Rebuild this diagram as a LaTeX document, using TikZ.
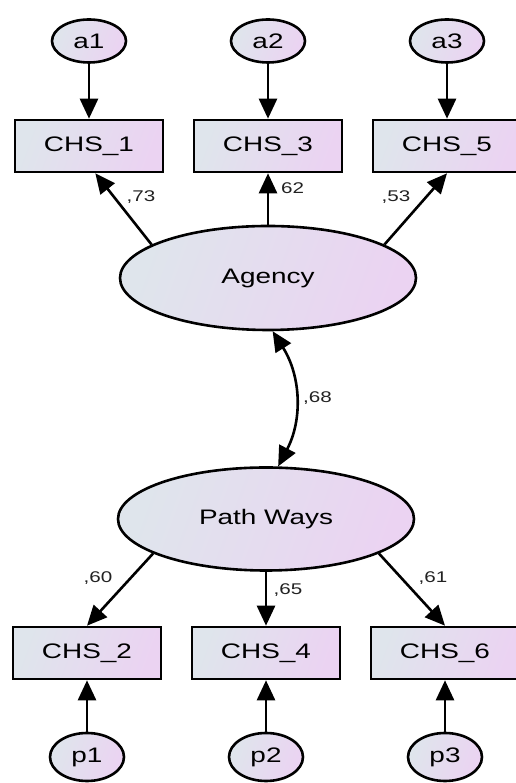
\documentclass[tikz,border=0pt]{standalone}
\usepackage{fontspec}
\setmainfont{Liberation Sans}[FakeStretch=1.33]
\usetikzlibrary{arrows.meta,shapes.geometric}
\definecolor{fillL}{HTML}{DFE5EC}
\definecolor{fillR}{HTML}{EBD3F2}
\definecolor{lbl}{HTML}{222222}
\tikzset{
  shaded/.style={draw=black, line width=2.6pt, left color=fillL, right color=fillR, shading angle=70},
  obs/.style={shaded, rectangle, minimum width=148pt, minimum height=52pt, inner sep=0pt,
    font=\fontsize{21}{24}\selectfont},
  latent/.style={shaded, ellipse, minimum width=296pt, minimum height=104pt, inner sep=0pt,
    font=\fontsize{21}{24}\selectfont},
  errv/.style={shaded, ellipse, minimum width=74pt, minimum height=43pt, inner sep=0pt,
    font=\fontsize{21}{24}\selectfont},
  path/.style={line width=2.6pt, -{Triangle[length=20pt,width=18pt]}},
  both/.style={line width=2.6pt, {Triangle[length=20pt,width=18pt]}-{Triangle[length=20pt,width=18pt]}},
  coef/.style={text=lbl, inner sep=0pt, font=\fontsize{15.5}{18}\selectfont}
}
\begin{document}
\begin{tikzpicture}[x=1pt,y=1pt]
  \useasboundingbox (0,0) rectangle (515,783);

  % error terms, top row
  \node[errv] (a1) at (89,742) {a1};
  \node[errv] (a2) at (268,742) {a2};
  \node[errv] (a3) at (447,742) {a3};

  % indicators of Agency
  \node[obs] (c1) at (89,637) {CHS\_1};
  \node[obs] (c3) at (268,637) {CHS\_3};
  \node[obs] (c5) at (447,637) {CHS\_5};

  % latent factors
  \node[latent] (ag) at (268,505) {Agency};
  \node[latent, minimum height=103pt] (pw) at (266,264) {Path Ways};

  % indicators of Path Ways
  \node[obs] (c2) at (87,130) {CHS\_2};
  \node[obs] (c4) at (266,130) {CHS\_4};
  \node[obs] (c6) at (445,130) {CHS\_6};

  % error terms, bottom row
  \node[errv, minimum height=48pt] (p1) at (87,26) {p1};
  \node[errv, minimum height=48pt] (p2) at (266,26) {p2};
  \node[errv, minimum height=48pt] (p3) at (445,26) {p3};

  % error paths
  \draw[path] (a1) -- (c1);
  \draw[path] (a2) -- (c3);
  \draw[path] (a3) -- (c5);
  \draw[path] (p1) -- (c2);
  \draw[path] (p2) -- (c4);
  \draw[path] (p3) -- (c6);

  % loadings
  \draw[path] (ag.164) -- (c1.-77);
  \draw[path] (ag.north) -- (c3.south);
  \draw[path] (ag.16) -- (c5.south);
  \draw[path] (pw.197) -- (c2.north);
  \draw[path] (pw.south) -- (c4.north);
  \draw[path] (pw.-17) -- (c6.north);

  % correlation
  \draw[both] (ag.275) to[bend left=30] (pw.77);

  % coefficients
  \node[coef] (l73) at (141,586) {,73};
  \node[coef, anchor=west] (l62) at (281,595) {62};
  \node[coef] (l53) at (396,586) {,53};
  \node[coef, anchor=west] (l68) at (303,385) {,68};
  \node[coef] (l60) at (98,205) {,60};
  \node[coef] (l65) at (288,193) {,65};
  \node[coef] (l61) at (433,205) {,61};
\end{tikzpicture}
\end{document}
